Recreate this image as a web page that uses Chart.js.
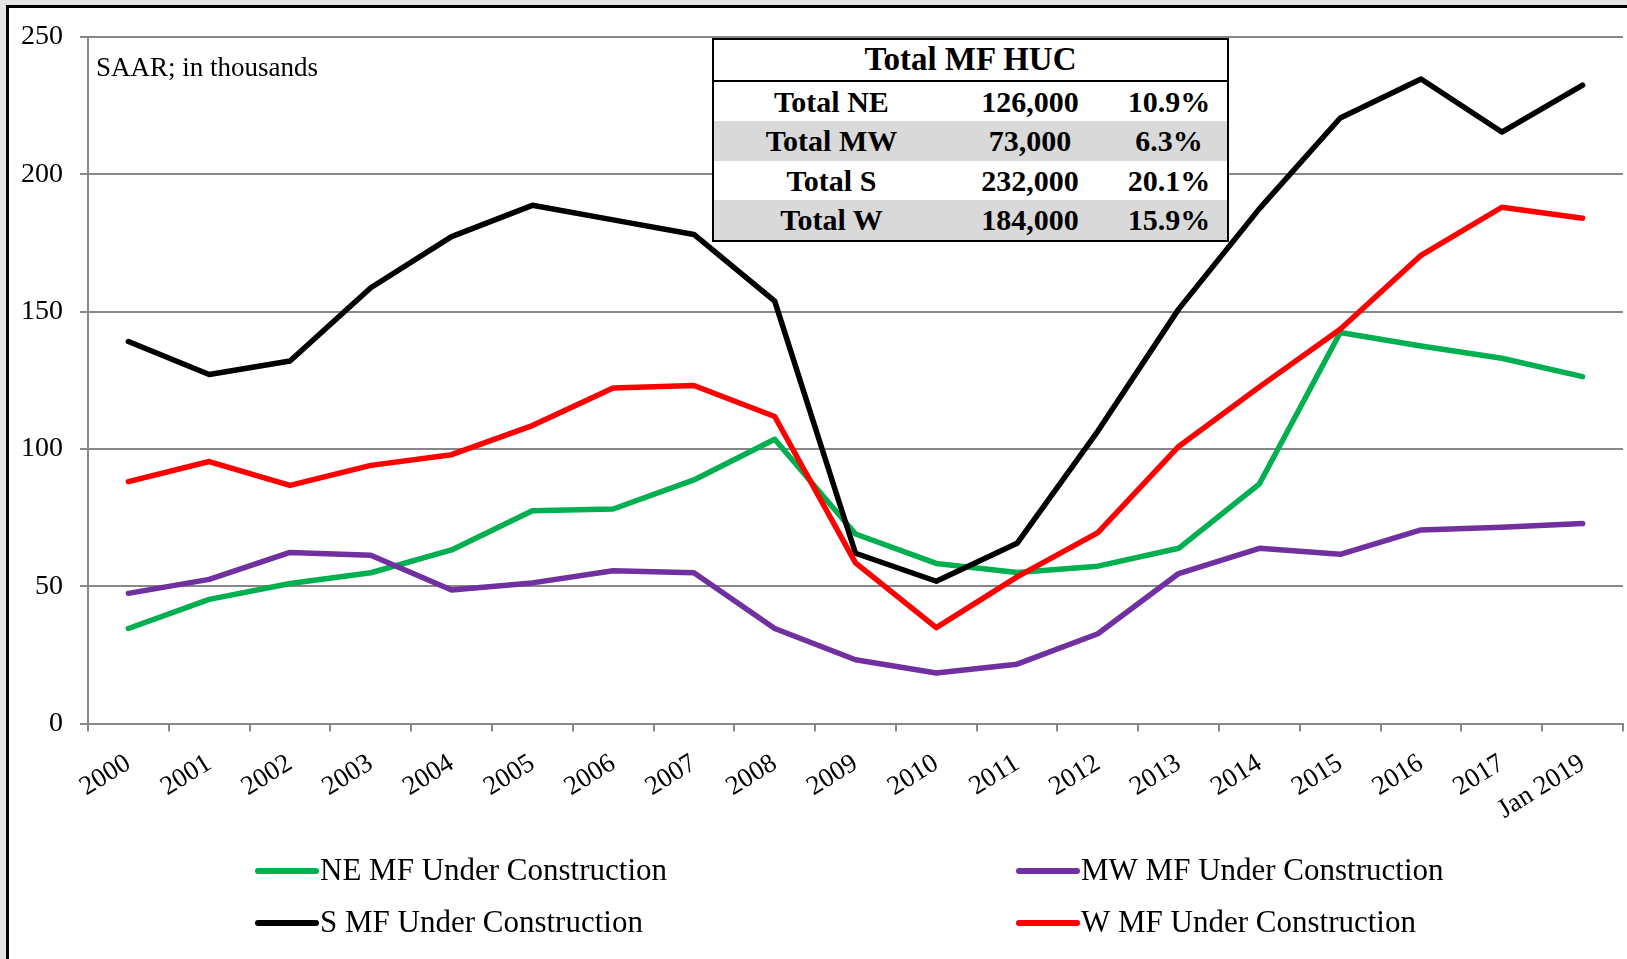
<!DOCTYPE html>
<html lang="en">
<head>
<meta charset="UTF-8">
<title>MF Units Under Construction by Region</title>
<script src="https://cdn.jsdelivr.net/npm/chart.js"></script>
<style>
  html, body { margin: 0; padding: 0; background: #e4e4e4; }
  .wrap { position: relative; width: 1627px; height: 959px; overflow: hidden; }
  canvas { position: absolute; left: 0; top: 0; }
  #huc {
    position: absolute; left: 712px; top: 38px; width: 517px;
    border-collapse: collapse; border: 2px solid #000; background: #fff;
    font-family: 'Liberation Serif', 'Times New Roman', serif; font-weight: bold;
    font-size: 30px; color: #000; table-layout: fixed;
  }
  #huc td, #huc th { padding: 0; height: 39.5px; text-align: center; line-height: 39px; }
  #huc th { font-size: 33px; border-bottom: 2px solid #000; }
  #huc tr.shade td { background: #d9d9d9; }
</style>
</head>
<body>
<div class="wrap">
  <canvas id="chart" width="1627" height="959"></canvas>
  <table id="huc"></table>
</div>
<script>
// categories
const years = ['2000', '2001', '2002', '2003', '2004', '2005', '2006', '2007', '2008', '2009',
  '2010', '2011', '2012', '2013', '2014', '2015', '2016', '2017', 'Jan 2019'];

// series, thousands of units (SAAR)
const neValues = [34.6, 45.2, 51.0, 54.9, 63.2, 77.5, 78.1, 88.7, 103.5, 69.0, 58.3, 55.0, 57.3, 63.8, 87.3, 142.4, 137.5, 133.0, 126.3];
const mwValues = [47.4, 52.5, 62.3, 61.3, 48.6, 51.2, 55.6, 54.9, 34.6, 23.2, 18.4, 21.6, 32.7, 54.6, 63.8, 61.6, 70.5, 71.5, 72.8];
const sValues = [139.1, 127.1, 132.0, 158.7, 177.3, 188.7, 183.4, 178.1, 153.8, 62.0, 51.8, 65.6, 106.5, 150.9, 187.5, 220.5, 234.7, 215.4, 232.5];
const wValues = [88.1, 95.4, 86.7, 94.0, 97.9, 108.5, 122.2, 123.1, 111.8, 58.5, 34.9, 53.4, 69.5, 100.9, 122.6, 143.6, 170.5, 188.0, 184.0];

// y axis
const yMin = 0;
const yMax = 250;
const yStep = 50;

// summary table
const tableTitle = 'Total MF HUC';
const tableRegions = ['Total NE', 'Total MW', 'Total S', 'Total W'];
const tableUnits = ['126,000', '73,000', '232,000', '184,000'];
const tableShares = ['10.9%', '6.3%', '20.1%', '15.9%'];

const noteText = 'SAAR; in thousands';

// build the table
const table = document.getElementById('huc');
let html = '<colgroup><col style="width:236px"><col style="width:162px"><col style="width:117px"></colgroup>';
html += '<tr><th colspan="3">' + tableTitle + '</th></tr>';
tableRegions.forEach((r, i) => {
  html += '<tr' + (i % 2 === 1 ? ' class="shade"' : '') + '><td>' + r + '</td><td>' +
    tableUnits[i] + '</td><td>' + tableShares[i] + '</td></tr>';
});
table.innerHTML = html;

const serif = "'Liberation Serif', 'Times New Roman', serif";
const gridGray = '#878787';

// frame, note and 2x2 legend
const decor = {
  id: 'decor',
  beforeDraw(chart) {
    const ctx = chart.ctx;
    ctx.save();
    ctx.fillStyle = '#e4e4e4';
    ctx.fillRect(0, 0, chart.width, chart.height);
    ctx.fillStyle = '#ffffff';
    ctx.fillRect(7, 6, chart.width, chart.height);
    ctx.strokeStyle = '#000';
    ctx.lineWidth = 3;
    ctx.beginPath();
    ctx.moveTo(7.5, chart.height);
    ctx.lineTo(7.5, 6.5);
    ctx.lineTo(chart.width, 6.5);
    ctx.stroke();
    ctx.restore();
  },
  afterDraw(chart) {
    const ctx = chart.ctx;
    ctx.save();
    ctx.fillStyle = '#000';
    ctx.font = '27px ' + serif;
    ctx.textBaseline = 'alphabetic';
    ctx.fillText(noteText, 96, 76);

    const slots = [
      { x: 258, y: 871 }, { x: 1019, y: 871 },
      { x: 258, y: 923 }, { x: 1019, y: 923 }
    ];
    ctx.font = '31px ' + serif;
    ctx.textBaseline = 'middle';
    chart.data.datasets.forEach((ds, i) => {
      const s = slots[i];
      ctx.strokeStyle = ds.borderColor;
      ctx.lineWidth = 6;
      ctx.lineCap = 'round';
      ctx.beginPath();
      ctx.moveTo(s.x, s.y);
      ctx.lineTo(s.x + 58, s.y);
      ctx.stroke();
      ctx.fillText(ds.label, s.x + 62, s.y + 1);
    });
    ctx.restore();
  }
};

const lineStyle = {
  borderWidth: 5.5,
  pointRadius: 0,
  tension: 0,
  fill: false,
  borderCapStyle: 'round',
  borderJoinStyle: 'round'
};

new Chart(document.getElementById('chart'), {
  type: 'line',
  data: {
    labels: years,
    datasets: [
      { label: 'NE MF Under Construction', data: neValues, borderColor: '#00b050', order: 3, ...lineStyle },
      { label: 'MW MF Under Construction', data: mwValues, borderColor: '#7030a0', order: 2, ...lineStyle },
      { label: 'S MF Under Construction', data: sValues, borderColor: '#000000', order: 1, ...lineStyle },
      { label: 'W MF Under Construction', data: wValues, borderColor: '#ff0000', order: 0, ...lineStyle }
    ]
  },
  options: {
    responsive: false,
    animation: false,
    layout: { padding: { left: 0, top: 37, right: 4, bottom: 0 } },
    plugins: {
      legend: { display: false },
      tooltip: { enabled: false }
    },
    scales: {
      x: {
        offset: true,
        grid: { display: true, drawOnChartArea: false, offset: true, color: gridGray, lineWidth: 2, tickLength: 8 },
        border: { display: true, color: gridGray, width: 2 },
        ticks: {
          color: '#000', font: { family: serif, size: 27 },
          minRotation: 32, maxRotation: 32, autoSkip: false, padding: 16
        },
        afterFit(scale) { scale.height = 235.5; }
      },
      y: {
        min: yMin,
        max: yMax,
        grid: { color: gridGray, lineWidth: 2, tickLength: 8 },
        border: { display: true, color: gridGray, width: 2 },
        ticks: { stepSize: yStep, color: '#000', font: { family: serif, size: 28 }, padding: 17 },
        afterFit(scale) { scale.width = 88; }
      }
    }
  },
  plugins: [decor]
});
</script>
</body>
</html>
